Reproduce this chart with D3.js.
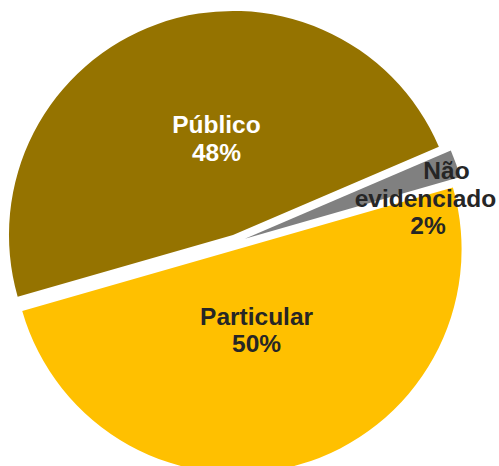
<!DOCTYPE html>
<html>
<head>
<meta charset="utf-8">
<script src="https://cdn.jsdelivr.net/npm/d3@7"></script>
<style>
  html, body { margin: 0; padding: 0; background: #ffffff; }
  svg { display: block; }
</style>
</head>
<body>
<svg id="chart" width="499" height="466"></svg>
<script>
// ---- data ----
const categories = ["Público", "Não evidenciado", "Particular"];
const labelLines = [["Público", "48%"], ["Não", "evidenciado", "2%"], ["Particular", "50%"]];
const values = [48, 2, 50];

// ---- styles / layout ----
const colors = ["#957300", "#808080", "#FFC000"];
const textColors = ["#ffffff", "#262626", "#262626"];
const explode = [7.5, 10, 7.5];
// label tweaks relative to slice centroid
const labelRadius = [97, 189, 87];
const labelShift = [[16, -5], [2.5, 23], [-5, -3]];
const lineDx = [[0, 0], [21, 0, 2.5], [0, 0]];

const W = 499, H = 466;
const cx = 235.5, cy = 242, R = 224;
const startDeg = 254;
const lineH = 27.5, fontSize = 24.5;

const svg = d3.select("#chart");
svg.append("rect").attr("width", W).attr("height", H).attr("fill", "#fff");

const pie = d3.pie().sort(null).value(d => d)
  .startAngle(startDeg * Math.PI / 180)
  .endAngle(startDeg * Math.PI / 180 + 2 * Math.PI);
const arcs = pie(values);
const arc = d3.arc().innerRadius(0).outerRadius(R);

const g = svg.append("g").attr("transform", `translate(${cx},${cy})`);

arcs.forEach((a, i) => {
  const mid = (a.startAngle + a.endAngle) / 2;
  const ox = explode[i] * Math.sin(mid), oy = -explode[i] * Math.cos(mid);
  const sg = g.append("g").attr("transform", `translate(${ox},${oy})`);
  sg.append("path").attr("d", arc(a)).attr("fill", colors[i]);
});

arcs.forEach((a, i) => {
  const mid = (a.startAngle + a.endAngle) / 2;
  const ox = explode[i] * Math.sin(mid), oy = -explode[i] * Math.cos(mid);
  const lx = ox + labelRadius[i] * Math.sin(mid) + labelShift[i][0];
  const ly = oy - labelRadius[i] * Math.cos(mid) + labelShift[i][1];
  const lines = labelLines[i];
  const t = g.append("text")
    .attr("text-anchor", "middle")
    .attr("font-family", "'Liberation Sans', Arial, sans-serif")
    .attr("font-weight", "bold")
    .attr("font-size", fontSize)
    .attr("fill", textColors[i]);
  lines.forEach((ln, j) => {
    t.append("tspan")
      .attr("x", lx + lineDx[i][j])
      .attr("y", ly + (j - (lines.length - 1) / 2) * lineH + 8.6)
      .text(ln);
  });
});
</script>
</body>
</html>
